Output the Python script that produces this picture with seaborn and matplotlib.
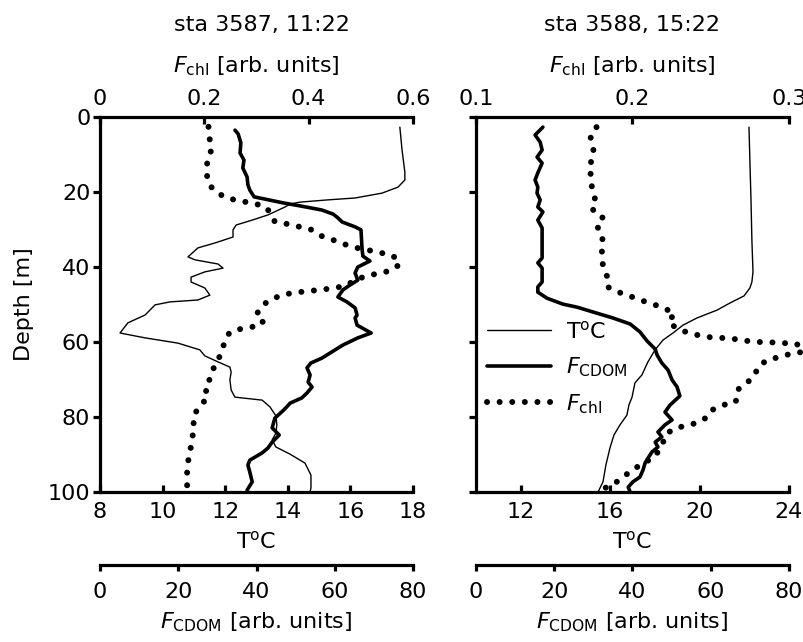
import matplotlib
matplotlib.use("Agg")
import matplotlib.pyplot as plt
import seaborn as sns
from matplotlib.lines import Line2D

# ---------------- data: station 3587 ----------------
depth_T_3587 = [2.7, 8.8, 14.7, 16.8, 18.7, 20.3, 21.6, 22.1, 22.7, 23.2, 24.0, 26.1, 27.5, 28.8,
                30.1, 32.0, 33.6, 34.9, 37.3, 38.1, 39.2, 40.3, 41.3, 42.7, 44.0, 45.6, 47.5, 48.8,
                49.3, 50.1, 52.8, 54.9, 57.6, 58.9, 60.3, 62.1, 63.7, 65.3, 66.7, 68.0, 70.1, 72.8,
                74.7, 75.5, 77.3, 79.7, 82.1, 84.3, 86.1, 88.0, 89.9, 92.3, 95.5, 98.9, 100.0]
temp_3587 = [17.58, 17.65, 17.74, 17.74, 17.52, 17.01, 16.15, 15.28, 14.39, 14.07, 13.91, 13.37,
             12.86, 12.35, 12.25, 12.25, 11.67, 11.13, 10.81, 11.04, 11.77, 11.93, 11.35, 10.91,
             10.91, 11.35, 11.51, 11.13, 10.24, 9.76, 9.44, 8.89, 8.64, 9.44, 10.49, 11.19, 11.35,
             11.77, 12.15, 12.19, 12.15, 12.19, 12.31, 13.18, 13.43, 13.62, 13.65, 13.62, 13.50,
             13.62, 14.07, 14.55, 14.74, 14.74, 14.71]

depth_C_3587 = [3.5, 4.5, 6.9, 9.6, 11.5, 13.6, 16.0, 18.1, 19.5, 21.3, 21.9, 22.9, 23.7, 24.8,
                25.9, 26.9, 28.0, 29.3, 30.1, 35.5, 37.1, 38.4, 40.0, 41.6, 43.5, 44.8, 46.1, 48.0,
                49.3, 50.9, 52.8, 53.6, 55.5, 57.6, 58.9, 60.8, 62.1, 64.3, 65.6, 66.9, 68.8, 70.7,
                72.0, 73.6, 74.9, 76.3, 78.1, 80.3, 82.9, 84.8, 86.7, 88.3, 89.6, 91.5, 92.8, 94.7,
                97.3, 99.5]
cdom_3587 = [34.5, 35.3, 36.0, 35.8, 36.8, 36.5, 37.6, 37.8, 38.3, 39.4, 42.2, 46.8, 51.1, 56.7,
             59.6, 60.8, 61.9, 65.2, 66.7, 67.0, 67.2, 69.0, 65.9, 65.2, 65.9, 63.9, 62.1, 60.8,
             63.1, 65.2, 65.7, 65.2, 65.7, 69.3, 65.9, 62.1, 60.1, 56.7, 53.9, 52.9, 53.7, 53.2,
             54.2, 52.9, 51.6, 48.6, 47.0, 44.7, 44.0, 45.8, 44.0, 42.9, 41.4, 38.3, 37.8, 38.3,
             38.9, 37.6]

depth_chl_3587 = [2.6, 5.7, 8.6, 11.5, 14.6, 17.9, 20.2, 21.7, 22.3, 23.0, 23.7, 25.4, 27.9, 28.5,
                  29.2, 29.9, 31.7, 32.8, 33.9, 34.9, 35.5, 36.2, 37.0, 39.3, 41.0, 41.7, 42.3, 43.5,
                  45.1, 45.6, 46.1, 46.4, 46.8, 47.3, 48.4, 50.0, 52.8, 54.8, 55.9, 56.5, 57.5, 60.4,
                  63.5, 66.3, 69.2, 71.9, 74.8, 77.2, 80.1, 83.2, 86.3, 89.5, 92.8, 95.9, 99.3]
chl_3587 = [0.208, 0.210, 0.214, 0.206, 0.204, 0.208, 0.224, 0.245, 0.267, 0.291, 0.315, 0.326,
            0.335, 0.358, 0.380, 0.403, 0.424, 0.447, 0.468, 0.492, 0.514, 0.538, 0.562, 0.575,
            0.556, 0.535, 0.512, 0.489, 0.470, 0.447, 0.424, 0.399, 0.377, 0.353, 0.332, 0.313,
            0.299, 0.313, 0.294, 0.270, 0.248, 0.238, 0.231, 0.219, 0.214, 0.201, 0.207, 0.190,
            0.178, 0.181, 0.175, 0.173, 0.167, 0.167, 0.167]

# ---------------- data: station 3588 ----------------
depth_T_3588 = [2.7, 11.5, 22.1, 32.8, 41.3, 44.0, 45.6, 47.7, 49.6, 51.5, 53.6, 55.5, 57.6, 59.5,
                62.1, 65.3, 68.8, 70.9, 74.7, 76.8, 79.5, 82.1, 84.8, 88.3, 92.8, 97.3, 100.0]
temp_3588 = [22.21, 22.25, 22.30, 22.34, 22.39, 22.34, 22.25, 21.99, 21.36, 20.78, 19.88, 19.26,
             18.81, 18.36, 18.01, 17.69, 17.42, 17.11, 16.98, 16.84, 16.75, 16.44, 16.17, 15.99,
             15.81, 15.68, 15.46]

depth_C_3588 = [2.7, 4.8, 6.7, 8.8, 10.7, 12.3, 14.9, 16.8, 18.7, 20.3, 22.1, 24.0, 25.3, 27.5,
                29.6, 32.3, 37.6, 38.9, 40.3, 44.0, 45.3, 46.7, 48.3, 49.9, 50.7, 52.0, 53.6, 55.2,
                57.3, 59.7, 61.9, 63.5, 65.6, 67.5, 70.1, 72.0, 74.4, 76.8, 78.7, 80.8, 82.1, 84.0,
                85.3, 86.7, 88.0, 89.3, 90.9, 92.3, 94.1, 96.0, 97.3, 98.7, 100.0]
cdom_3588 = [17.1, 15.1, 16.4, 16.9, 15.6, 16.9, 15.8, 15.1, 15.8, 15.6, 16.4, 15.8, 17.1, 15.8,
             16.9, 16.9, 16.9, 15.8, 16.9, 16.9, 15.8, 15.8, 18.1, 22.2, 25.8, 29.9, 35.0, 39.4,
             41.9, 43.7, 45.8, 46.3, 47.5, 49.1, 50.1, 51.4, 52.1, 49.6, 48.3, 50.1, 48.3, 46.5,
             47.5, 45.8, 46.5, 45.0, 44.0, 43.2, 42.7, 41.9, 40.1, 38.9, 39.4]

depth_chl_3588 = [2.7, 5.1, 8.0, 10.7, 13.3, 16.3, 18.9, 21.6, 24.5, 26.7, 28.8, 32.0, 34.7, 37.3,
                  40.0, 42.7, 45.3, 46.7, 47.7, 48.8, 49.9, 50.9, 52.5, 54.4, 56.0, 57.3, 58.1, 58.7,
                  58.9, 59.2, 59.7, 60.0, 60.1, 60.3, 60.5, 62.7, 62.9, 64.0, 64.8, 66.7, 69.1, 70.9,
                  72.8, 76.0, 76.8, 78.1, 80.0, 81.6, 82.4, 83.2, 84.8, 87.5, 90.7, 92.3, 94.1, 96.0,
                  97.9, 99.2]
chl_3588 = [0.177, 0.173, 0.175, 0.175, 0.172, 0.174, 0.174, 0.176, 0.174, 0.181, 0.177, 0.181,
            0.180, 0.181, 0.181, 0.184, 0.184, 0.191, 0.198, 0.205, 0.213, 0.220, 0.227, 0.223,
            0.227, 0.234, 0.241, 0.249, 0.257, 0.265, 0.273, 0.281, 0.289, 0.297, 0.305, 0.309,
            0.303, 0.294, 0.286, 0.280, 0.278, 0.273, 0.267, 0.266, 0.258, 0.251, 0.248, 0.241,
            0.233, 0.226, 0.221, 0.219, 0.214, 0.207, 0.200, 0.194, 0.188, 0.181]

titles = ["sta 3587, 11:22", "sta 3588, 15:22"]
depth_ticks = [0, 20, 40, 60, 80, 100]
temp_ticks = [[8, 10, 12, 14, 16, 18], [12, 16, 20, 24]]
temp_lims = [(8, 18), (10, 24)]
chl_ticks = [[0, 0.2, 0.4, 0.6], [0.1, 0.2, 0.3]]
chl_lims = [(0, 0.6), (0.1, 0.3)]
cdom_ticks = [0, 20, 40, 60, 80]
legend_labels = [r"T$^{\rm o}$C", r"$F_{\rm CDOM}$", r"$F_{\rm chl}$"]

# ---------------- style ----------------
sns.set_theme(style="ticks")
plt.rcParams['font.family'] = ['DejaVu Sans']
plt.rcParams['mathtext.fontset'] = 'dejavusans'
for k in ['text.color', 'axes.labelcolor', 'xtick.color', 'ytick.color', 'axes.edgecolor']:
    plt.rcParams[k] = 'black'
FS = 16
SPW = 2.3
thin_kw = dict(color='black', linewidth=1.0)
thick_kw = dict(color='black', linewidth=2.6)
dot_kw = dict(color='black', linewidth=4.3, linestyle=(0, (0.01, 2.1)),
              dash_capstyle='round')

fig = plt.figure(figsize=(8.04, 6.42), dpi=100)
W, H = 804, 642


def rect(x0, x1, y0, y1):
    return [x0 / W, 1 - y1 / H, (x1 - x0) / W, (y1 - y0) / H]


panels = [
    (rect(100, 413, 117, 492), depth_T_3587, temp_3587, depth_C_3587, cdom_3587,
     depth_chl_3587, chl_3587),
    (rect(476, 789, 117, 492), depth_T_3588, temp_3588, depth_C_3588, cdom_3588,
     depth_chl_3588, chl_3588),
]
title_x = [262, 632]

axes_main = []
for i, (r, dT, T, dC, C, dchl, chl) in enumerate(panels):
    ax = fig.add_axes(r)
    axc = ax.twiny()   # chl (top)
    axd = ax.twiny()   # cdom (offset bottom)

    sns.lineplot(x=T, y=dT, sort=False, estimator=None, ax=ax, legend=False, **thin_kw)
    sns.lineplot(x=C, y=dC, sort=False, estimator=None, ax=axd, legend=False, **thick_kw)
    sns.lineplot(x=chl, y=dchl, sort=False, estimator=None, ax=axc, legend=False,
                 clip_on=False, **dot_kw)

    ax.set_ylim(100, 0)
    ax.set_xlim(*temp_lims[i])
    axc.set_xlim(*chl_lims[i])
    axd.set_xlim(0, 80)

    # main axis: bottom temperature and left depth
    ax.spines['right'].set_visible(False)
    ax.spines['top'].set_visible(False)
    for s in ['left', 'bottom']:
        ax.spines[s].set_linewidth(SPW)
    ax.set_xticks(temp_ticks[i])
    ax.set_yticks(depth_ticks)
    ax.tick_params(axis='x', direction='in', length=5, width=SPW, labelsize=FS, pad=7.5)
    ax.tick_params(axis='y', direction='out', length=5, width=SPW, labelsize=FS, pad=2)
    ax.set_xlabel(r"T$^{\rm o}$C", fontsize=FS, labelpad=6)
    if i == 0:
        ax.set_ylabel("Depth [m]", fontsize=FS, labelpad=10)
    else:
        ax.set_ylabel("")
        ax.tick_params(axis='y', labelleft=False)

    # chl axis on top
    for s in ['left', 'right', 'bottom']:
        axc.spines[s].set_visible(False)
    axc.spines['top'].set_linewidth(SPW)
    axc.set_xticks(chl_ticks[i])
    axc.set_xticklabels([("0" if v == 0 else f"{v:.1f}") for v in chl_ticks[i]])
    axc.tick_params(axis='x', direction='in', length=5, width=SPW, labelsize=FS, pad=6)
    axc.set_xlabel(r"$F_{\rm chl}$ [arb. units]", fontsize=FS, labelpad=12)

    # cdom axis, offset below
    for s in ['left', 'right', 'top']:
        axd.spines[s].set_visible(False)
    axd.xaxis.set_ticks_position('bottom')
    axd.xaxis.set_label_position('bottom')
    axd.spines['bottom'].set_visible(True)
    axd.spines['bottom'].set_position(('outward', 52.5))
    axd.spines['bottom'].set_linewidth(SPW)
    axd.set_xticks(cdom_ticks)
    axd.tick_params(axis='x', direction='out', length=4, width=SPW, labelsize=FS, pad=8)
    axd.set_xlabel(r"$F_{\rm CDOM}$ [arb. units]", fontsize=FS, labelpad=6)

    fig.text(title_x[i] / W, 1 - 25 / H, titles[i], ha='center', va='center', fontsize=FS)
    axes_main.append(ax)

handles = [Line2D([], [], **thin_kw), Line2D([], [], **thick_kw), Line2D([], [], **dot_kw)]
axes_main[1].legend(handles, legend_labels, loc='upper left',
                    bbox_to_anchor=(487 / W, 1 - 320 / H), bbox_transform=fig.transFigure,
                    frameon=False, fontsize=FS, handlelength=2.9, handletextpad=0.65,
                    labelspacing=0.6, borderpad=0, borderaxespad=0)

fig.savefig("out.png", dpi=100)
